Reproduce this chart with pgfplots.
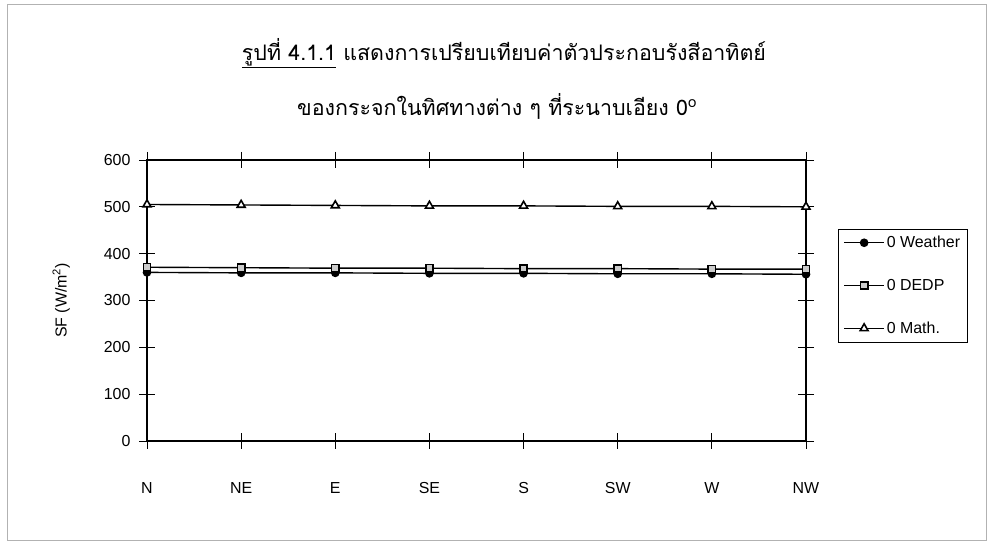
\documentclass[border=0pt]{standalone}
\usepackage{fontspec}
\setmainfont{Liberation Sans}
\newfontfamily\thaifont[Script=Thai]{Loma}
\usepackage{pgfplots}
\pgfplotsset{compat=1.18}

\pgfplotstableread{
x Weather DEDP Math
0 360 371 505
1 359 370 504
2 359 369 503
3 358 369 502
4 358 368 502
5 357 368 501
6 357 367 501
7 356 367 500
}\sfdata

\begin{document}
\begin{tikzpicture}[x=1bp,y=1bp]
\useasboundingbox (0,0) rectangle (990,542);
\draw[gray!60, line width=0.8bp] (7,2) rectangle (986,538);
\node[font=\thaifont\fontsize{21.5}{25}\selectfont] at (504,489) {\underline{รูปที่ 4.1.1} แสดงการเปรียบเทียบค่าตัวประกอบรังสีอาทิตย์};
\node[font=\thaifont\fontsize{21.5}{25}\selectfont] at (497,436) {ของกระจกในทิศทางต่าง ๆ ที่ระนาบเอียง 0\textsuperscript{o}};
\begin{axis}[
  at={(147bp,101bp)}, anchor=south west,
  width=659bp, height=281bp, scale only axis,
  xmin=0, xmax=7, ymin=0, ymax=600,
  xtick={0,...,7}, xticklabels={N,NE,E,SE,S,SW,W,NW},
  ytick={0,100,...,600},
  tick align=center, major tick length=16bp,
  tick style={black, line width=0.9bp},
  axis line style={black, line width=1.3bp},
  /pgf/number format/assume math mode=true,
  ticklabel style={font=\fontsize{16}{19}\selectfont},
  xticklabel style={yshift=-30bp},
  yticklabel style={xshift=-5bp},
  ylabel={SF (W/m\textsuperscript{2})},
  every axis y label/.style={at={(rel axis cs:-0.13,0.5)}, anchor=center, rotate=90, font=\fontsize{16}{19}\selectfont},
  legend style={at={(rel axis cs:1.0486,0.755)}, anchor=north west, draw=black, line width=0.8bp,
    font=\fontsize{16}{19}\selectfont, row sep=26bp, inner xsep=5bp, inner ysep=5bp},
  legend cell align=left,
  legend image code/.code={\draw[#1, mark repeat=2, mark phase=2] plot coordinates {(0bp,0bp) (20bp,0bp) (40bp,0bp)};},
]
\addplot[black, line width=1.4bp, mark=*, mark size=3.6bp, mark options={solid, fill=black}] table[x=x, y=Weather] {\sfdata};
\addlegendentry{0 Weather}
\addplot[black, line width=1.4bp, mark=square*, mark size=3.6bp, mark options={solid, fill=gray!40, draw=black, line width=1.6bp}] table[x=x, y=DEDP] {\sfdata};
\addlegendentry{0 DEDP}
\addplot[black, line width=1.4bp, mark=triangle*, mark size=4.6bp, mark options={solid, fill=white, draw=black, line width=1.6bp}] table[x=x, y=Math] {\sfdata};
\addlegendentry{0 Math.}
\end{axis}
\end{tikzpicture}
\end{document}
